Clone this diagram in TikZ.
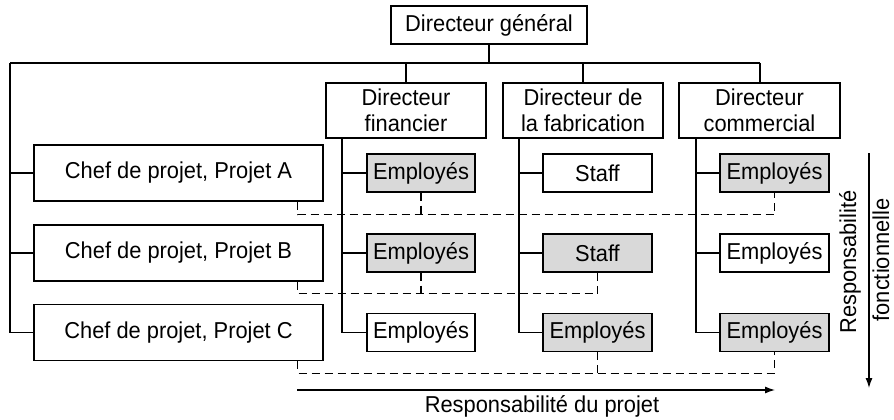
\documentclass[tikz,border=0pt]{standalone}
\usepackage{fontspec}
\setmainfont{Liberation Sans}[FakeStretch=0.95]
\usetikzlibrary{arrows.meta}
\definecolor{boxgray}{RGB}{217,217,217}
\tikzset{
  base/.style={draw=black, line width=1.2pt, inner sep=0pt, align=center,
    font=\fontsize{23}{25.7}\selectfont},
  topbox/.style={base, minimum width=196pt, minimum height=38pt},
  dirbox/.style={base, minimum width=160pt, minimum height=55pt},
  chefbox/.style={base, minimum width=289pt, minimum height=56pt},
  subbox/.style={base, minimum width=109pt, minimum height=38pt, fill=white},
  graybox/.style={subbox, fill=boxgray},
  link/.style={line width=1.2pt},
  projlink/.style={line width=1.2pt, dash pattern=on 8pt off 5pt},
  bigarrow/.style={line width=1.2pt, -{Latex[length=10pt,width=7pt]}},
  lbl/.style={inner sep=0pt, font=\fontsize{23}{25.7}\selectfont}
}
\begin{document}
\begin{tikzpicture}[x=1pt,y=-1pt]
\useasboundingbox (0,0) rectangle (894,420);

% top level
\node[topbox] (DG) at (489,25) {Directeur général};
\coordinate (hl) at (10,63);
\coordinate (hr) at (760,63);

% directors
\node[dirbox] (DF) at (406,110.5) {Directeur\\financier};
\node[dirbox] (DFab) at (583,110.5) {Directeur de\\la fabrication};
\node[dirbox, minimum width=161pt] (DC) at (759.5,110.5) {Directeur\\commercial};

% project managers
\node[chefbox] (CA) at (178.5,173) {Chef de projet, Projet A};
\node[chefbox] (CB) at (178.5,253) {Chef de projet, Projet B};
\node[chefbox] (CC) at (178.5,332.5) {Chef de projet, Projet C};

% staff boxes
\node[graybox, minimum width=108pt] (F1) at (421,173) {Employés};
\node[graybox, minimum width=108pt] (F2) at (421,253) {Employés};
\node[subbox, minimum width=108pt] (F3) at (421,332.5) {Employés};
\node[subbox] (B1) at (597.5,173) {Staff};
\node[graybox] (B2) at (597.5,253) {Staff};
\node[graybox] (B3) at (597.5,332.5) {Employés};
\node[graybox] (M1) at (774.5,173) {Employés};
\node[subbox] (M2) at (774.5,253) {Employés};
\node[graybox] (M3) at (774.5,332.5) {Employés};

% hierarchy connectors
\draw[link] (DG.south) -- (DG.south |- hl);
\draw[link] (hl) -- (hr);
\draw[link] (DF.north) -- (DF.north |- hl);
\draw[link] (DFab.north) -- (DFab.north |- hl);
\draw[link] (hr) -- (DC.north -| hr);
\draw[link] (hl) |- (CA.west);
\draw[link] (hl) |- (CB.west);
\draw[link] (hl) |- (CC.west);

\coordinate (fv) at (342,138);
\coordinate (bv) at (519,138);
\coordinate (mv) at (696,138);
\draw[link] (fv) |- (F1.west);
\draw[link] (fv) |- (F2.west);
\draw[link] (fv) |- (F3.west);
\draw[link] (bv) |- (B1.west);
\draw[link] (bv) |- (B2.west);
\draw[link] (bv) |- (B3.west);
\draw[link] (mv) |- (M1.west);
\draw[link] (mv) |- (M2.west);
\draw[link] (mv) |- (M3.west);

% project (dashed) connectors
\draw[projlink] ([xshift=-26pt]CA.south east) -- ++(0,13) -| (M1.south);
\draw[projlink] (F1.south) -- ++(0,22);
\draw[projlink] ([xshift=-26pt]CB.south east) -- ++(0,12) -| (B2.south);
\draw[projlink] (F2.south) -- ++(0,21);
\draw[projlink] ([xshift=-26pt]CC.south east) -- ++(0,12) -| (M3.south);
\draw[projlink] (B3.south) -- ++(0,21);

% responsibility arrows
\coordinate (ha) at (297,390);
\coordinate (hb) at (775,390);
\draw[bigarrow] (ha) -- (hb);
\node[lbl] (LP) at (542,406) {Responsabilité du projet};

\coordinate (va) at (869,153);
\coordinate (vb) at (869,388);
\draw[bigarrow] (va) -- (vb);
\node[lbl, rotate=90] (LF1) at (850,262) {Responsabilité};
\node[lbl, rotate=90] (LF2) at (881,260) {fonctionnelle};
\end{tikzpicture}
\end{document}
